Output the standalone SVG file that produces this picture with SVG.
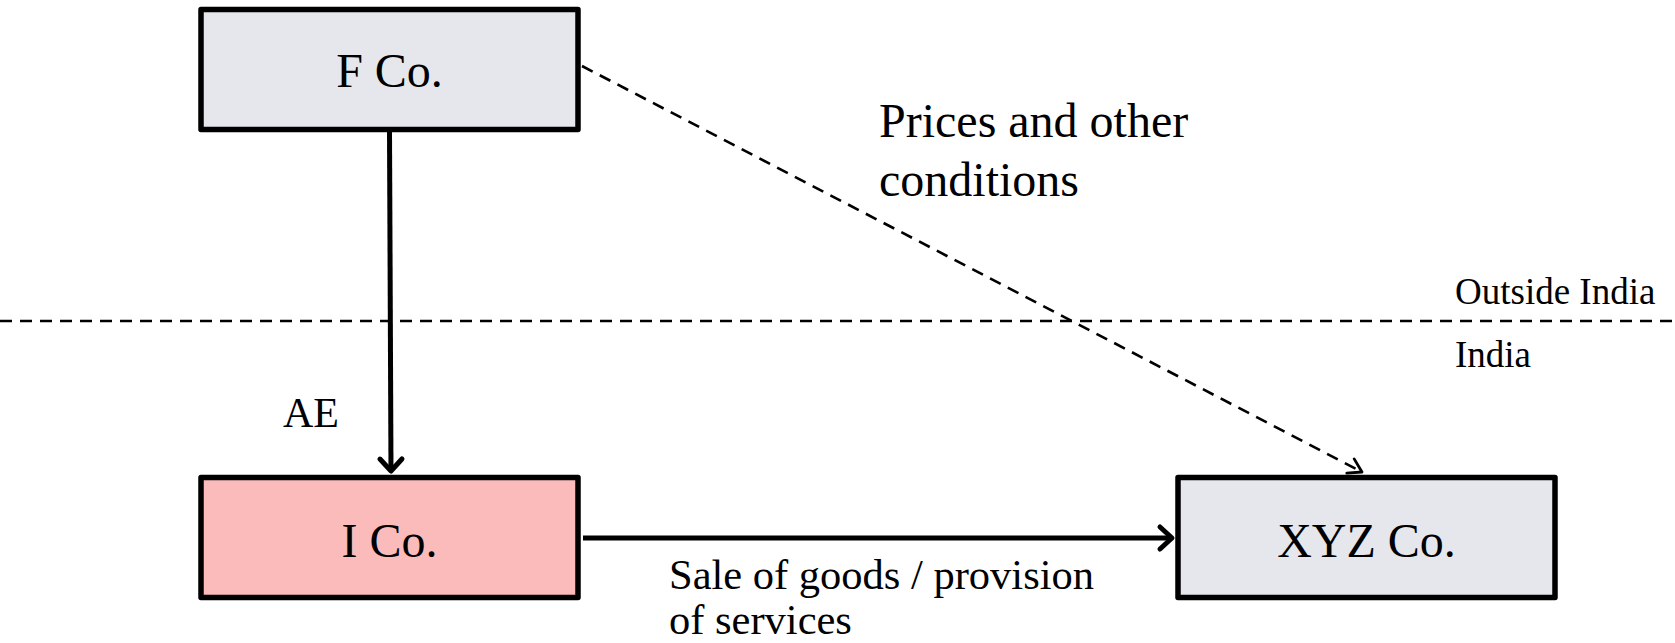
<svg xmlns="http://www.w3.org/2000/svg" width="1675" height="643" viewBox="0 0 1675 643">
<style>
.box{stroke:#000;stroke-width:5.5;stroke-linejoin:round}
.lbl{font-family:"Liberation Serif","Times New Roman",serif;fill:#000}
.big{font-size:48px}
.mid{font-size:42.5px}
.sm{font-size:37px}
.solid{stroke:#000;stroke-width:5;fill:none}
.dash{stroke:#000;stroke-width:2.6;fill:none;stroke-dasharray:12 8}
</style>
<defs>
<marker id="arr" markerUnits="userSpaceOnUse" viewBox="-18 -15 22 30" markerWidth="22" markerHeight="30" refX="0" refY="0" orient="auto">
<path d="M-12,-11 L0,0 L-12,11" fill="none" stroke="#000" stroke-width="5" stroke-linecap="round" stroke-linejoin="round"/>
</marker>
<marker id="arrd" markerUnits="userSpaceOnUse" viewBox="-16 -12 19 24" markerWidth="19" markerHeight="24" refX="0" refY="0" orient="auto">
<path d="M-13,-8 L0,0 L-13,8" fill="none" stroke="#000" stroke-width="2.8" stroke-linecap="round" stroke-linejoin="round"/>
</marker>
</defs>
<rect width="1675" height="643" fill="#fff"/>
<g id="connectors">
<line class="dash" x1="0" y1="321" x2="1675" y2="321"/>
<line class="solid" x1="389.5" y1="132" x2="391" y2="471" marker-end="url(#arr)"/>
<line class="solid" x1="583" y1="538" x2="1172" y2="538" marker-end="url(#arr)"/>
<line class="dash" x1="582" y1="66" x2="1362" y2="472" marker-end="url(#arrd)"/>
</g>
<g id="node-fco">
<rect class="box" x="201" y="9.5" width="377" height="120" fill="#e6e7ec"/>
<text class="lbl big" x="389.5" y="87" text-anchor="middle">F Co.</text>
</g>
<g id="node-ico">
<rect class="box" x="201" y="477.5" width="377" height="120" fill="#fcbbbb"/>
<text class="lbl big" x="389.5" y="557" text-anchor="middle">I Co.</text>
</g>
<g id="node-xyz">
<rect class="box" x="1178" y="477.5" width="377" height="120" fill="#e6e7ec"/>
<text class="lbl big" x="1366.5" y="557" text-anchor="middle">XYZ Co.</text>
</g>
<g id="labels">
<text class="lbl big" x="879" y="137">Prices and other</text>
<text class="lbl big" x="879" y="196">conditions</text>
<text class="lbl sm" x="1455" y="304">Outside India</text>
<text class="lbl sm" x="1455" y="367">India</text>
<text class="lbl" style="font-size:42px" x="283" y="427">AE</text>
<text class="lbl mid" x="669" y="589">Sale of goods / provision</text>
<text class="lbl mid" x="669" y="634">of services</text>
</g>
</svg>
